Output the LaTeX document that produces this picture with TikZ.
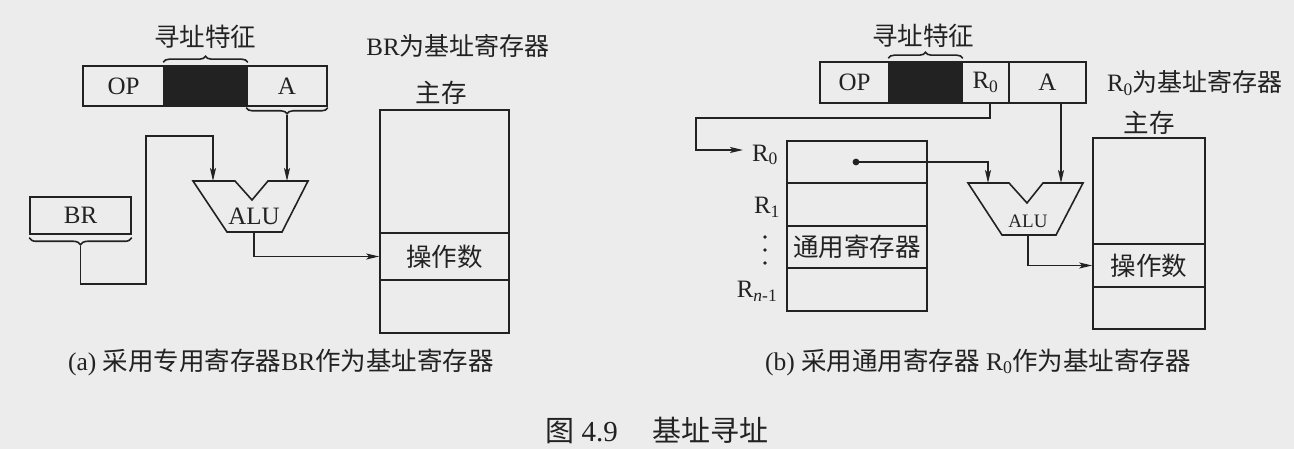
\documentclass[tikz,border=0pt]{standalone}
\usepackage{fontspec}
\setmainfont{Liberation Serif}
\newfontfamily\cjk{Noto Sans CJK SC}
\usetikzlibrary{decorations.pathreplacing,arrows.meta,calc}
\definecolor{bg}{RGB}{236,236,236}
\definecolor{ink}{RGB}{34,34,34}
\begin{document}
\begin{tikzpicture}[x=1pt,y=-1pt,line width=1.6pt,color=ink,
  lat/.style={font=\fontsize{25}{28}\selectfont},
  zh/.style={font=\fontsize{25.5}{28}\selectfont\cjk},
  captxt/.style={font=\fontsize{25.5}{28}\selectfont},
  cell/.style={draw=ink,line width=1.6pt,inner sep=0pt,lat},
  blk/.style={cell,fill=ink},
  arr/.style={-{Stealth[length=13pt,width=6pt,inset=3pt]}},
  brc/.style={decorate,decoration={brace,amplitude=6pt}}]
\fill[bg] (0,0) rectangle (1294,449);
\useasboundingbox (0,0) rectangle (1294,449);
% ================= (a) =================
\node[cell,minimum width=81,minimum height=40] (opa) at (123.5,86) {OP};
\node[blk,minimum width=83,minimum height=40] (blka) at (205.5,86) {};
\node[cell,minimum width=80,minimum height=40] (aa) at (287,86) {A};
\draw[brc] ($(blka.north west)+(0,-3)$) -- ($(blka.north east)+(0,-3)$);
\node[zh] (tza) at (205,37) {寻址特征};
\node[lat] (noteA) at (458,46) {BR{\cjk 为基址寄存器}};
\node[zh] (zca) at (441,93) {主存};
\node[cell,minimum width=129,minimum height=123] (ma1) at (444.5,171.5) {};
\node[cell,minimum width=129,minimum height=47,zh] (ma2) at (444.5,256.5) {操作数};
\node[cell,minimum width=129,minimum height=53] (ma3) at (444.5,306.5) {};
% ALU a
\draw[line join=miter] (193,181) -- (235,181) -- (252,200) -- (268,181) -- (308,181) -- (282,232) -- (227,232) -- cycle;
\node[lat] (alua) at (254,216) {ALU};
\coordinate (alua-in1) at (213,181);
\coordinate (alua-in2) at (287,181);
\coordinate (alua-out) at (254,232);
% brace under A
\draw[brc] ($(aa.south east)+(0,1)$) -- ($(aa.south west)+(0,1)$) coordinate[midway,yshift=-7pt] (atip);
\draw[arr] (atip) -- (alua-in2);
% BR
\node[cell,minimum width=101,minimum height=37] (br) at (80.5,215.5) {BR};
\draw[brc,decoration={amplitude=7pt}] ($(br.south east)+(0,3)$) -- ($(br.south west)+(0,3)$) coordinate[midway,yshift=-8pt] (brtip);
\draw[arr] (brtip) |- (146,284) |- (213,136) -- (alua-in1);
\draw[arr] (alua-out) |- (ma2.west);
\node[captxt] (capa) at (281,362) {(a) {\cjk 采用专用寄存器}BR{\cjk 作为基址寄存器}};
% ================= (b) =================
\node[cell,minimum width=69,minimum height=41] (opb) at (854.5,82.5) {OP};
\node[blk,minimum width=73,minimum height=41] (blkb) at (925.5,82.5) {};
\node[cell,minimum width=47,minimum height=41] (r0c) at (985.5,82.5) {R\textsubscript{0}};
\node[cell,minimum width=77,minimum height=41] (ab) at (1047.5,82.5) {A};
\draw[brc] ($(blkb.north west)+(0,-3)$) -- ($(blkb.north east)+(0,-3)$);
\node[zh] (tzb) at (923,36) {寻址特征};
\node[lat] (noteB) at (1195,83) {R\textsubscript{0}{\cjk 为基址寄存器}};
\node[zh] (zcb) at (1149,123) {主存};
\node[cell,minimum width=112,minimum height=106] (mb1) at (1149,191) {};
\node[cell,minimum width=112,minimum height=43,zh] (mb2) at (1149,265.5) {操作数};
\node[cell,minimum width=112,minimum height=42] (mb3) at (1149,308) {};
% registers
\node[cell,minimum width=140,minimum height=42] (g0) at (857,162) {};
\node[cell,minimum width=140,minimum height=43] (g1) at (857,204.5) {};
\node[cell,minimum width=140,minimum height=42,zh] (g2) at (857,247) {通用寄存器};
\node[cell,minimum width=140,minimum height=43] (g3) at (857,289.5) {};
\node[lat] (lr0) at (765,155) {R\textsubscript{0}};
\node[lat] (lr1) at (767,207) {R\textsubscript{1}};
\node[lat] (lrn) at (757,291) {R\textsubscript{\textit{n}-1}};
\fill (765,237) circle (1.8pt) (765,250) circle (1.8pt) (765,263) circle (1.8pt);
% ALU b
\draw[line join=miter] (968,183) -- (1009,183) -- (1027,203) -- (1043,183) -- (1083,183) -- (1056,235) -- (1002,235) -- cycle;
\node[font=\fontsize{19}{21}\selectfont] (alub) at (1028,221) {ALU};
\coordinate (alub-in1) at (988,183);
\coordinate (alub-in2) at (1061,183);
\coordinate (alub-out) at (1028,235);
\coordinate (dot) at (856,162);
\fill (dot) circle (3.4pt);
\draw[arr] (dot) -| (alub-in1);
\draw[arr] ($(r0c.south)+(4.5,0)$) |- (696,118) |- (743,150);
\draw[arr] ($(ab.south)+(13.5,0)$) -- (alub-in2);
\draw[arr] (alub-out) |- (mb2.west);
\node[captxt] (capb) at (978,362) {(b) {\cjk 采用通用寄存器} R\textsubscript{0}{\cjk 作为基址寄存器}};
% figure caption
\node[font=\fontsize{29}{31}\selectfont] (fig) at (657,430) {{\cjk 图} 4.9\hspace{1.2em}{\cjk 基址寻址}};
\end{tikzpicture}
\end{document}
